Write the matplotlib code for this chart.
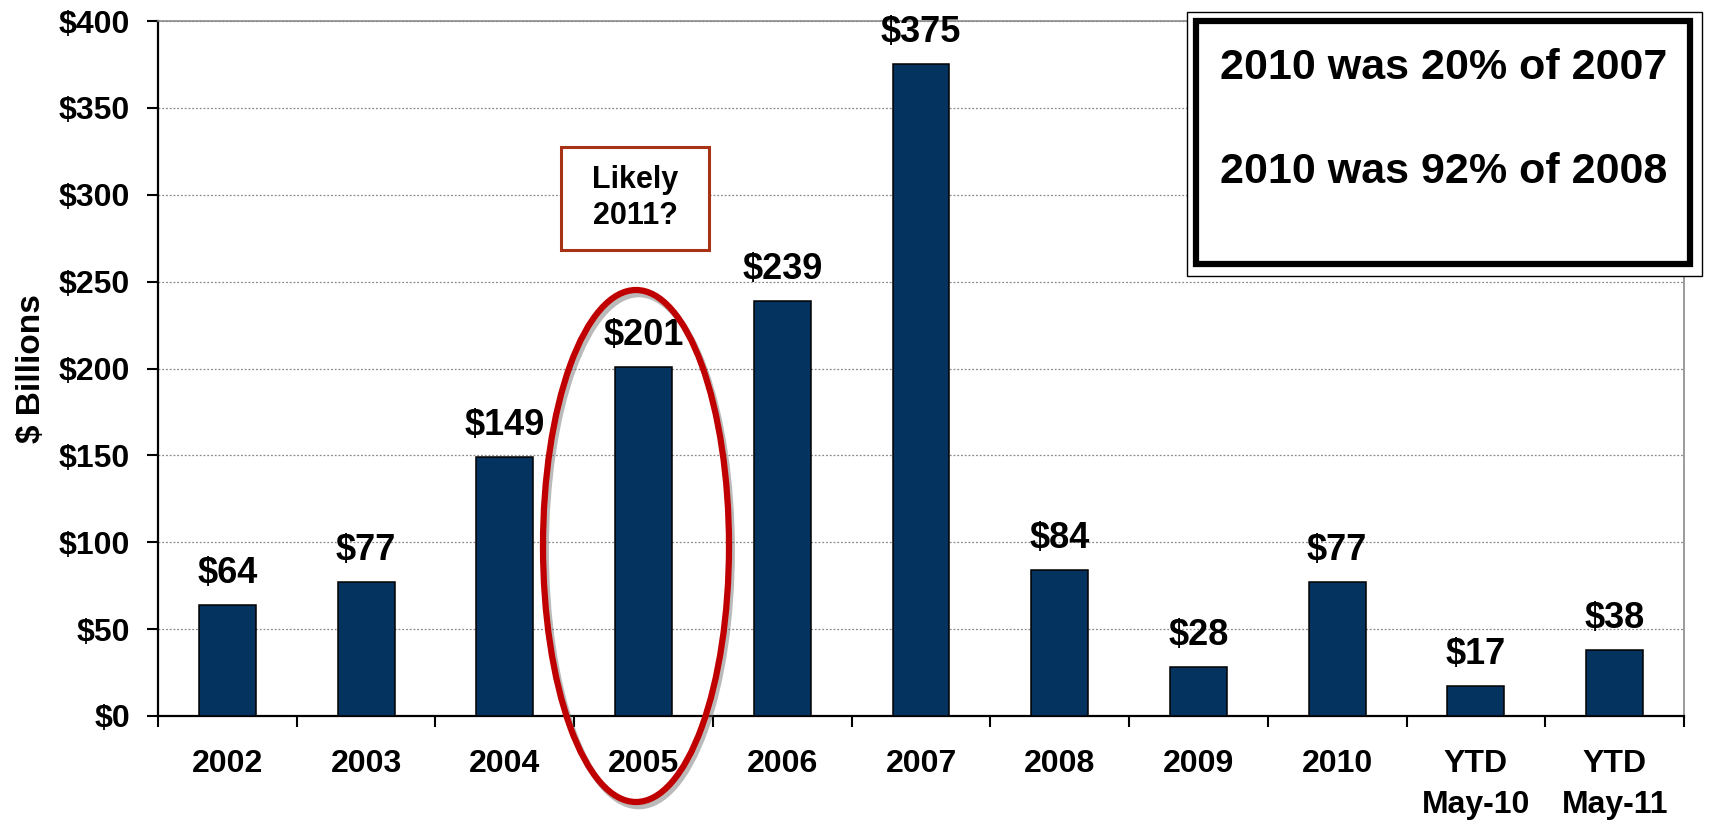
import matplotlib
matplotlib.use("Agg")
import matplotlib.pyplot as plt
from matplotlib.patches import Rectangle, Ellipse
from matplotlib.ticker import FixedLocator, FuncFormatter
import matplotlib.patheffects as pe

plt.rcParams['font.family'] = ['Liberation Sans', 'DejaVu Sans']
plt.rcParams['font.weight'] = 'bold'

# Annual values in $ billions
categories = ["2002", "2003", "2004", "2005", "2006", "2007", "2008",
              "2009", "2010", "YTD\nMay-10", "YTD\nMay-11"]
values = [64, 77, 149, 201, 239, 375, 84, 28, 77, 17, 38]
value_labels = ["$64", "$77", "$149", "$201", "$239", "$375", "$84",
                "$28", "$77", "$17", "$38"]
y_ticks = [0, 50, 100, 150, 200, 250, 300, 350, 400]

note_lines = ["2010 was 20% of 2007", "2010 was 92% of 2008"]
callout_text = "Likely\n2011?"

BAR_COLOR = "#04335F"
W, H = 1710, 824

fig = plt.figure(figsize=(W / 100, H / 100), dpi=100)
ax = fig.add_axes([158 / W, 1 - 716 / H, (1684 - 158) / W, (716 - 21) / H])

x = list(range(len(categories)))
ax.bar(x, values, width=0.41, color=BAR_COLOR, edgecolor="black",
       linewidth=1.1, zorder=3)

for xi, v, lab in zip(x, values, value_labels):
    ax.annotate(lab, (xi, v), xytext=(0, 16), textcoords="offset points",
                ha="center", va="baseline", fontsize=26, fontweight="bold",
                zorder=4)

ax.set_xlim(-0.5, len(categories) - 0.5)
ax.set_ylim(0, 400)

# y axis
ax.set_yticks(y_ticks)
ax.yaxis.set_major_formatter(FuncFormatter(lambda v, p: f"${int(v)}"))
ax.tick_params(axis="y", direction="out", length=8, width=1.5, pad=12,
               labelsize=23)
for t in ax.get_yticklabels():
    t.set_fontweight("bold")

# x axis: labels centred under bars, tick marks at category boundaries
ax.set_xticks(x)
ax.set_xticklabels(categories, fontsize=23, fontweight="bold",
                   linespacing=1.45)
ax.xaxis.set_minor_locator(FixedLocator([i - 0.5 for i in range(len(categories) + 1)]))
ax.tick_params(axis="x", which="major", length=0, pad=24)
ax.tick_params(axis="x", which="minor", direction="out", length=8, width=1.5)

ax.set_ylabel("$ Billions", fontsize=24, fontweight="bold")
ax.yaxis.set_label_coords(-0.073, 0.5)

ax.yaxis.grid(True, color="#8a8a8a", linestyle=(0, (1.5, 1.5)), linewidth=0.9,
              zorder=0)
ax.set_axisbelow(True)

for side in ("left", "bottom"):
    ax.spines[side].set_color("black")
    ax.spines[side].set_linewidth(1.6)
for side in ("top", "right"):
    ax.spines[side].set_color("#8a8a8a")
    ax.spines[side].set_linewidth(1.2)


def fx(px):
    return px / W


def fy(py):
    return 1 - py / H


# Red ellipse around 2005
ell = Ellipse((fx(636), fy(546)), 186 / W, 512 / H, transform=fig.transFigure,
              fill=False, edgecolor="#C00000", linewidth=4.5, zorder=6,
              clip_on=False,
              path_effects=[pe.SimpleLineShadow(offset=(2, -3),
                                                shadow_color="#666666",
                                                alpha=0.45),
                            pe.Normal()])
fig.add_artist(ell)

# Callout box
fig.add_artist(Rectangle((fx(561), fy(250)), (709 - 561) / W, (250 - 147) / H,
                         transform=fig.transFigure, facecolor="white",
                         edgecolor="#A83214", linewidth=2.2, zorder=5))
fig.text(fx(635), fy(198), callout_text, ha="center", va="center",
         fontsize=22, fontweight="bold", linespacing=1.3, zorder=6)

# Summary box with double border
fig.add_artist(Rectangle((fx(1187), fy(276)), (1702 - 1187) / W, (276 - 12) / H,
                         transform=fig.transFigure, facecolor="white",
                         edgecolor="black", linewidth=1.0, zorder=5))
fig.add_artist(Rectangle((fx(1196), fy(264)), (1690 - 1196) / W, (264 - 21) / H,
                         transform=fig.transFigure, facecolor="white",
                         edgecolor="black", linewidth=4.5, zorder=5))
fig.text(fx(1444), fy(68), note_lines[0], ha="center", va="center",
         fontsize=31, fontweight="bold", zorder=6)
fig.text(fx(1444), fy(172), note_lines[1], ha="center", va="center",
         fontsize=31, fontweight="bold", zorder=6)

fig.savefig("out.png", dpi=100, facecolor="white")
